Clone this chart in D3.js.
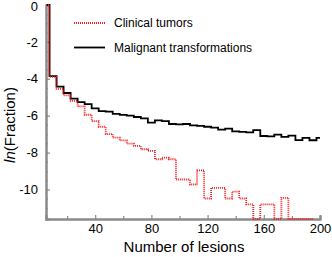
<!DOCTYPE html>
<html>
<head>
<meta charset="utf-8">
<script src="https://cdn.jsdelivr.net/npm/d3@7"></script>
<style>
  body { margin: 0; background: #fff; }
  text { font-family: "Liberation Sans", Arial, sans-serif; }
</style>
</head>
<body>
<div id="chart"></div>
<script>
// lesion bins (5 lesions wide)
var lesions = d3.range(5, 201, 5);

// ln(fraction), black = malignant transformations
var malignant = [0, -3.86, -4.42, -4.77, -5.08, -5.26, -5.37, -5.6, -5.75, -5.78,
  -5.9, -5.96, -6.0, -6.07, -6.15, -6.38, -6.25, -6.3, -6.45, -6.47,
  -6.45, -6.52, -6.55, -6.6, -6.65, -6.75, -6.7, -6.85, -6.88, -6.9,
  -6.78, -7.1, -7.12, -7.03, -7.15, -7.08, -7.32, -7.2, -7.33, -7.2];

// red = clinical tumors (-11.6 = empty bin, sits on the axis)
var clinical = [0, -3.9, -4.55, -4.9, -5.2, -5.5, -5.95, -6.3, -6.6, -7.0,
  -7.19, -7.34, -7.51, -7.64, -7.82, -7.91, -8.36, -8.27, -8.36, -9.46,
  -9.46, -9.73, -8.96, -10.49, -9.91, -9.91, -10.49, -10.12, -10.49, -10.81,
  -11.6, -10.81, -10.81, -11.6, -10.45, -11.6, -11.6, -11.6, -11.6, null];

var xTicks = [40, 80, 120, 160, 200];
var xMinor = [20, 60, 100, 140, 180];
var yTicks = [0, -2, -4, -6, -8, -10];
var yMinor = d3.range(0, -11.6, -0.5);

var width = 332, height = 257;
var margin = {top: 5, right: 12, bottom: 38, left: 46};

var svg = d3.select("#chart")
  .append("svg")
    .attr("width", width)
    .attr("height", height);

var x = d3.scaleLinear()
  .domain([5, 200])
  .range([margin.left, width - margin.right]);

var y = d3.scaleLinear()
  .domain([-11.6, 0])
  .range([height - margin.bottom, margin.top]);

// axes, ticks pointing inward
var axisColor = "#8a8a8a";

var yMinorAxis = svg.append("g")
  .attr("transform", "translate(" + margin.left + ",0)")
  .call(d3.axisLeft(y).tickValues(yMinor).tickSize(-2).tickFormat(""));

var yAxis = svg.append("g")
  .attr("transform", "translate(" + margin.left + ",0)")
  .call(d3.axisLeft(y).tickValues(yTicks).tickSize(-4).tickPadding(8)
    .tickFormat(function(d) { return d === 0 ? "0" : "-" + Math.abs(d); }));

var xMinorAxis = svg.append("g")
  .attr("transform", "translate(0," + y(-11.6) + ")")
  .call(d3.axisBottom(x).tickValues(xMinor).tickSize(-3).tickFormat(""));

var xAxis = svg.append("g")
  .attr("transform", "translate(0," + y(-11.6) + ")")
  .call(d3.axisBottom(x).tickValues(xTicks).tickSize(-4).tickPadding(5));

[yMinorAxis, yAxis, xMinorAxis, xAxis].forEach(function(g) {
  g.select(".domain").attr("stroke", axisColor).attr("stroke-width", 2);
  g.selectAll(".tick line").attr("stroke", axisColor).attr("stroke-width", 1.2);
  g.selectAll("text").attr("fill", "#000").style("font-size", "13px")
    .style("font-family", "Liberation Sans, Arial, sans-serif");
});

// keep the top "0" inside the picture
yAxis.selectAll(".tick text")
  .filter(function(d) { return d === 0; })
  .attr("dy", "0.45em");

// lines
var line = d3.line()
  .defined(function(d) { return d[1] !== null; })
  .x(function(d) { return x(d[0]); })
  .y(function(d) { return y(d[1]); })
  .curve(d3.curveStep);

svg.append("path")
  .datum(lesions.map(function(v, i) { return [v, malignant[i]]; }))
  .attr("fill", "none")
  .attr("stroke", "#000")
  .attr("stroke-width", 1.8)
  .attr("d", line);

svg.append("path")
  .datum(lesions.map(function(v, i) { return [v, clinical[i]]; }))
  .attr("fill", "none")
  .attr("stroke", "#f01e1e")
  .attr("stroke-width", 1.8)
  .attr("stroke-dasharray", "1,1")
  .attr("d", line);

// legend
var legend = svg.append("g");
legend.append("line")
  .attr("x1", 74).attr("x2", 105).attr("y1", 23).attr("y2", 23)
  .attr("stroke", "#f01e1e").attr("stroke-width", 1.8).attr("stroke-dasharray", "1,1");
legend.append("text")
  .attr("x", 114).attr("y", 27)
  .style("font-size", "12px")
  .text("Clinical tumors");
legend.append("line")
  .attr("x1", 74).attr("x2", 105).attr("y1", 47.5).attr("y2", 47.5)
  .attr("stroke", "#000").attr("stroke-width", 1.8);
legend.append("text")
  .attr("x", 114).attr("y", 51.5)
  .style("font-size", "12px")
  .text("Malignant transformations");

// axis titles
svg.append("text")
  .attr("x", 184).attr("y", 252)
  .attr("text-anchor", "middle")
  .style("font-size", "15px")
  .text("Number of lesions");

var yTitle = svg.append("text")
  .attr("transform", "translate(15,125) rotate(-90)")
  .attr("text-anchor", "middle")
  .style("font-size", "15px");
yTitle.append("tspan").style("font-style", "italic").text("ln");
yTitle.append("tspan").text("(Fraction)");
</script>
</body>
</html>
